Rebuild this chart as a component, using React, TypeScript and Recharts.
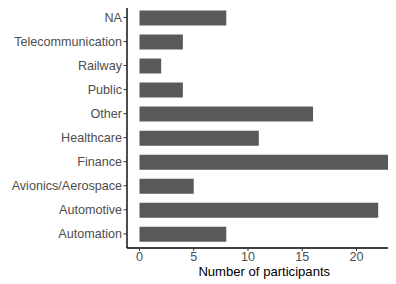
import { BarChart, Bar, XAxis, YAxis } from 'recharts'

const sectors = [
  'NA',
  'Telecommunication',
  'Railway',
  'Public',
  'Other',
  'Healthcare',
  'Finance',
  'Avionics/Aerospace',
  'Automotive',
  'Automation',
]
const participants = [8, 4, 2, 4, 16, 11, 23, 5, 22, 8]
const xTicks = [0, 5, 10, 15, 20]

const FONT = '"Liberation Sans", Arial, sans-serif'
const MARGIN = { top: 2, right: 0.5, left: 0, bottom: 0 }

const data = sectors.map((name, i) => ({ name, participants: participants[i] }))

// axis title, plus the black rule along the top of the panel
const AxisTitle = ({ viewBox }: any) => (
  <g>
    <line
      x1={viewBox.x - 0.7}
      x2={viewBox.x + viewBox.width}
      y1={MARGIN.top + 1}
      y2={MARGIN.top + 1}
      stroke="#000"
      strokeWidth={2}
    />
    <text
      x={viewBox.x + viewBox.width / 2}
      y={viewBox.y + 28}
      textAnchor="middle"
      fill="#000"
      fontSize={13.1}
      fontFamily={FONT}
    >
      Number of participants
    </text>
  </g>
)

export default function App() {
  return (
    <div
      style={{
        position: 'relative',
        marginLeft: -8,
        marginTop: -8,
        width: 396,
        height: 284,
        overflow: 'hidden',
        background: '#fff',
        fontFamily: FONT,
      }}
    >
      <BarChart width={402} height={284} layout="vertical" data={data} margin={MARGIN}>
        <XAxis
          type="number"
          domain={[-1.15, 24.15]}
          ticks={xTicks}
          allowDataOverflow
          height={36}
          tickSize={3}
          tickMargin={1}
          tick={{ fill: '#4d4d4d', fontSize: 12.6, fontFamily: FONT }}
          tickLine={{ stroke: '#333', strokeWidth: 1 }}
          axisLine={{ stroke: '#000', strokeWidth: 1.4 }}
          label={{ content: AxisTitle }}
        />
        <YAxis
          type="category"
          dataKey="name"
          width={127}
          interval={0}
          padding={{ top: 3.4, bottom: 2.1 }}
          tickSize={3.5}
          tickMargin={1.5}
          tick={{ fill: '#4d4d4d', fontSize: 12.6, fontFamily: FONT }}
          tickLine={{ stroke: '#333', strokeWidth: 1 }}
          axisLine={{ stroke: '#000', strokeWidth: 1.4 }}
        />
        <Bar dataKey="participants" fill="#595959" barSize={15} isAnimationActive={false} />
      </BarChart>
    </div>
  )
}
